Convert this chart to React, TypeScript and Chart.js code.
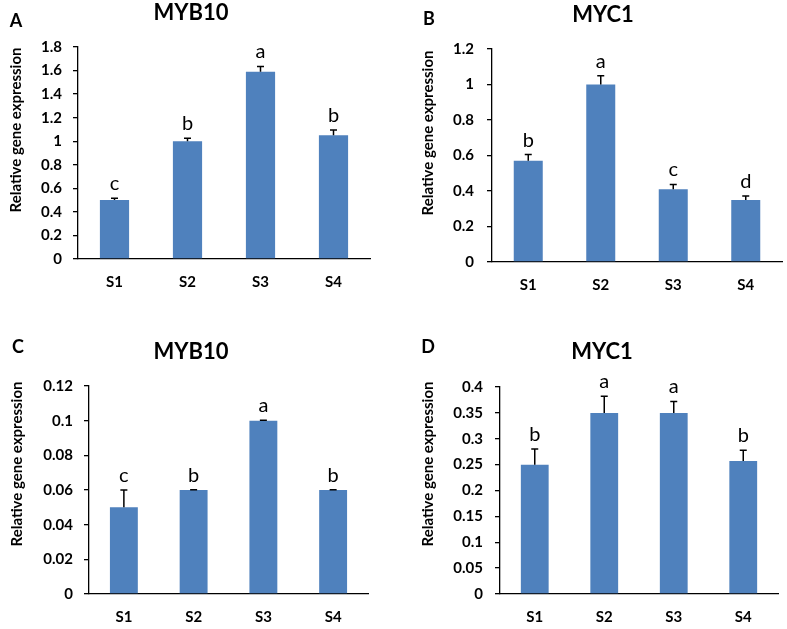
import React, { useEffect, useRef } from "react";
import { Chart, registerables } from "chart.js";

Chart.register(...registerables);

// ---------- data ----------
const categories = ["S1", "S2", "S3", "S4"];

const panelAValues = [0.5, 1.0, 1.59, 1.05];
const panelAErrors = [0.015, 0.025, 0.045, 0.045];
const panelALetters = ["c", "b", "a", "b"];
const panelATicks = { max: 1.8, step: 0.2 };

const panelBValues = [0.57, 1.0, 0.41, 0.35];
const panelBErrors = [0.035, 0.05, 0.027, 0.022];
const panelBLetters = ["b", "a", "c", "d"];
const panelBTicks = { max: 1.2, step: 0.2 };

const panelCValues = [0.05, 0.06, 0.1, 0.06];
const panelCErrors = [0.01, 0.0002, 0.0002, 0.0002];
const panelCLetters = ["c", "b", "a", "b"];
const panelCTicks = { max: 0.12, step: 0.02 };

const panelDValues = [0.25, 0.35, 0.35, 0.257];
const panelDErrors = [0.03, 0.032, 0.022, 0.021];
const panelDLetters = ["b", "a", "a", "b"];
const panelDTicks = { max: 0.4, step: 0.05 };

const yAxisTitle = "Relative gene expression";

// ---------- layout / style ----------
const W = 787;
const H = 629;
const BAR_COLOR = "#4F81BD";
const FONT = "Lato, 'Open Sans', sans-serif";

type Panel = {
  tag: string;
  title: string;
  values: number[];
  errors: number[];
  letters: string[];
  ticks: { max: number; step: number };
  area: { left: number; top: number; right: number; bottom: number };
  titlePos: { x: number; y: number };
  tagPos: { x: number; y: number };
  yTitlePos: { x: number; y: number };
  tickPad: number;
};

const panels: Panel[] = [
  {
    tag: "A",
    title: "MYB10",
    values: panelAValues,
    errors: panelAErrors,
    letters: panelALetters,
    ticks: panelATicks,
    area: { left: 78, top: 47, right: 370, bottom: 259 },
    titlePos: { x: 191, y: 13 },
    tagPos: { x: 16, y: 21 },
    yTitlePos: { x: 16, y: 130 },
    tickPad: 11,
  },
  {
    tag: "B",
    title: "MYC1",
    values: panelBValues,
    errors: panelBErrors,
    letters: panelBLetters,
    ticks: panelBTicks,
    area: { left: 492, top: 49, right: 782, bottom: 262 },
    titlePos: { x: 603, y: 15 },
    tagPos: { x: 429, y: 19 },
    yTitlePos: { x: 428, y: 133 },
    tickPad: 13,
  },
  {
    tag: "C",
    title: "MYB10",
    values: panelCValues,
    errors: panelCErrors,
    letters: panelCLetters,
    ticks: panelCTicks,
    area: { left: 89, top: 386, right: 368, bottom: 594 },
    titlePos: { x: 191, y: 352 },
    tagPos: { x: 18, y: 347 },
    yTitlePos: { x: 17, y: 464 },
    tickPad: 11,
  },
  {
    tag: "D",
    title: "MYC1",
    values: panelDValues,
    errors: panelDErrors,
    letters: panelDLetters,
    ticks: panelDTicks,
    area: { left: 500, top: 387, right: 778, bottom: 594 },
    titlePos: { x: 602, y: 352 },
    tagPos: { x: 428, y: 347 },
    yTitlePos: { x: 428, y: 464 },
    tickPad: 12,
  },
];

const X_AXIS_H = 40;

function fmt(v: number | string) {
  return String(Number(Number(v).toFixed(4)));
}

function makeConfig(p: Panel): any {
  const decorations = {
    id: "decorations" + p.tag,
    afterDatasetsDraw(chart: any) {
      const ctx = chart.ctx;
      const xs = chart.scales.x;
      const ys = chart.scales.y;
      ctx.save();
      ctx.strokeStyle = "#000";
      ctx.lineWidth = 1.5;
      p.values.forEach((v, i) => {
        const x = xs.getPixelForValue(i);
        const yb = ys.getPixelForValue(v);
        const yt = ys.getPixelForValue(v + p.errors[i]);
        ctx.beginPath();
        ctx.moveTo(x, yb);
        ctx.lineTo(x, yt);
        ctx.moveTo(x - 3.5, yt);
        ctx.lineTo(x + 3.5, yt);
        ctx.stroke();
        ctx.fillStyle = "#000";
        ctx.font = `20px ${FONT}`;
        ctx.textAlign = "center";
        ctx.textBaseline = "alphabetic";
        ctx.fillText(p.letters[i], x, yt - 8);
      });
      ctx.restore();
    },
    afterDraw(chart: any) {
      const ctx = chart.ctx;
      ctx.save();
      ctx.fillStyle = "#000";
      ctx.textAlign = "center";
      ctx.textBaseline = "middle";
      ctx.font = `bold 22px ${FONT}`;
      ctx.fillText(p.title, p.titlePos.x, p.titlePos.y);
      ctx.font = `bold 18px ${FONT}`;
      ctx.fillText(p.tag, p.tagPos.x, p.tagPos.y);
      ctx.translate(p.yTitlePos.x, p.yTitlePos.y);
      ctx.rotate(-Math.PI / 2);
      ctx.font = `bold 15px ${FONT}`;
      ctx.fillText(yAxisTitle, 0, 0);
      ctx.restore();
    },
  };

  return {
    type: "bar",
    data: {
      labels: categories,
      datasets: [
        {
          data: p.values,
          backgroundColor: BAR_COLOR,
          borderWidth: 0,
          barPercentage: 0.4,
          categoryPercentage: 1,
        },
      ],
    },
    options: {
      responsive: false,
      animation: false,
      events: [],
      layout: {
        padding: {
          left: 0,
          top: p.area.top,
          right: W - p.area.right,
          bottom: H - p.area.bottom - X_AXIS_H,
        },
      },
      plugins: {
        legend: { display: false },
        title: { display: false },
        tooltip: { enabled: false },
      },
      scales: {
        x: {
          type: "category",
          offset: true,
          grid: { display: false, drawTicks: false },
          border: { display: true, color: "#000", width: 1.3 },
          ticks: {
            color: "#000",
            font: { family: FONT, size: 15, weight: "bold" },
            padding: 14,
          },
          afterFit: (s: any) => {
            s.height = X_AXIS_H;
          },
        },
        y: {
          min: 0,
          max: p.ticks.max,
          grid: {
            display: true,
            drawOnChartArea: false,
            drawTicks: true,
            tickLength: 5,
            color: "#000",
            lineWidth: 1.3,
          },
          border: { display: true, color: "#000", width: 1.3 },
          ticks: {
            stepSize: p.ticks.step,
            color: "#000",
            font: { family: FONT, size: 15, weight: "bold" },
            padding: p.tickPad,
            callback: (v: any) => fmt(v),
          },
          afterFit: (s: any) => {
            s.width = p.area.left;
          },
        },
      },
    },
    plugins: [decorations],
  };
}

function PanelCanvas({ panel }: { panel: Panel }) {
  const ref = useRef<HTMLCanvasElement | null>(null);
  useEffect(() => {
    if (!ref.current) return;
    const chart = new Chart(ref.current, makeConfig(panel));
    return () => chart.destroy();
  }, [panel]);
  return (
    <canvas
      ref={ref}
      width={W}
      height={H}
      style={{ position: "absolute", left: 0, top: 0, width: W, height: H }}
    />
  );
}

export default function App() {
  return (
    <div
      style={{
        position: "absolute",
        left: 0,
        top: 0,
        width: W,
        height: H,
        background: "#fff",
      }}
    >
      {panels.map((p) => (
        <PanelCanvas key={p.tag} panel={p} />
      ))}
    </div>
  );
}
